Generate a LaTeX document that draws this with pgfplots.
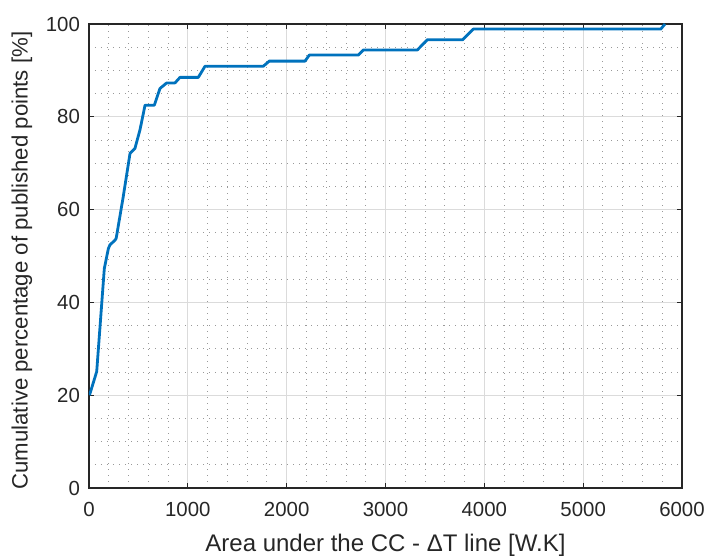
\documentclass[border=0pt]{standalone}
\usepackage{fontspec}
\setmainfont{Liberation Sans}
\usepackage{pgfplots}
\pgfplotsset{compat=1.18}
\definecolor{mblue}{RGB}{0,114,189}
\definecolor{mtext}{RGB}{38,38,38}
\begin{document}
\begin{tikzpicture}
\begin{axis}[
  scale only axis, width=296.5pt, height=232pt,
  xmin=0, xmax=6000, ymin=0, ymax=100,
  xtick={0,1000,...,6000}, ytick={0,20,...,100},
  minor x tick num=4, minor y tick num=3,
  grid=both,
  major grid style={color=black!14, line width=0.5pt},
  minor grid style={color=black!40, line width=0.45pt, dash pattern=on 0.5pt off 2.5pt},
  axis line style={color=mtext, line width=0.6pt},
  tick style={color=mtext, line width=0.6pt},
  major tick length=2.5pt, minor tick length=0pt,
  tick align=inside,
  scaled x ticks=false,
  xticklabel style={/pgf/number format/1000 sep={}},
  /pgf/number format/assume math mode=true,
  ticklabel style={font=\fontsize{10.2}{12}\selectfont, color=mtext},
  xticklabel style={yshift=-3.5pt},
  yticklabel style={xshift=-1pt},
  xlabel={Area under the CC - ΔT line [W.K]},
  ylabel={Cumulative percentage of published points [\%]},
  xlabel style={font=\fontsize{12}{14}\selectfont, color=mtext, at={(axis description cs:0.5,-0.123)}, anchor=center},
  ylabel style={font=\fontsize{11.1}{13}\selectfont, color=mtext, at={(axis description cs:-0.113,0.49)}, anchor=center},
]
\addplot[color=mblue, line width=1.4pt, line join=round] coordinates {
(5,20.0)
(78,25.1)
(155,47.3)
(196,51.6)
(212,52.4)
(263,53.4)
(275,53.8)
(345,62.6)
(415,72.1)
(465,73.2)
(516,77.2)
(567,82.5)
(661,82.5)
(718,86.1)
(786,87.3)
(870,87.3)
(921,88.5)
(1106,88.5)
(1174,90.9)
(1764,90.9)
(1824,92.0)
(2186,92.0)
(2229,93.3)
(2725,93.3)
(2776,94.4)
(3322,94.4)
(3423,96.6)
(3781,96.6)
(3888,98.9)
(5785,98.9)
(5828,100)
};
\end{axis}
\pgfresetboundingbox
\path ([shift={(-44.5pt,-36pt)}]current axis.south west) rectangle ([shift={(14pt,12pt)}]current axis.north east);
\end{tikzpicture}
\end{document}
